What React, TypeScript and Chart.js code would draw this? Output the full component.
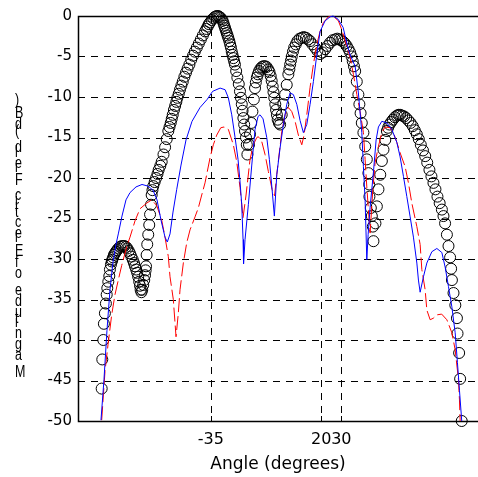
import React, { useEffect, useRef } from "react";
import { Chart, registerables } from "chart.js";

Chart.register(...registerables);

// Measured pattern (circles): angle in degrees / level in dB
const measuredAngle = [
  -89.4, -89.1, -88.6, -88.3, -87.8, -87.3, -86.9, -86.6, -86.1, -85.6, -85.3, -84.8, -84.4, -84.1,
  -83.7, -83.3, -82.8, -82.3, -81.7, -81.1, -80.3, -79.4, -78.7, -78.1, -77.3, -76.6, -75.9, -75.3,
  -74.6, -73.9, -73.3, -72.8, -72.2, -71.7, -71.2, -70.7, -70.3, -70.0, -69.6, -69.2, -68.7, -68.2,
  -67.8, -67.5, -67.3, -67.0, -66.7, -66.2, -65.7, -65.3, -64.8, -64.5, -64.1, -63.7, -63.0, -62.3,
  -61.6, -61.0, -60.2, -59.5, -58.6, -57.8, -57.0, -56.2, -55.6, -55.0, -54.5, -54.0, -53.4, -52.8,
  -52.2, -51.7, -51.0, -50.4, -49.7, -49.0, -48.2, -47.4, -46.6, -45.7, -44.8, -43.9, -43.0, -42.0,
  -41.0, -40.0, -39.0, -37.9, -37.2, -36.6, -36.0, -35.4, -34.6, -33.8, -33.0, -32.1, -31.4, -30.8,
  -30.2, -29.6, -29.1, -28.7, -28.3, -27.9, -27.5, -27.1, -26.7, -26.3, -25.8, -25.4, -25.0, -24.6,
  -24.2, -23.8, -23.4, -23.0, -22.4, -21.8, -21.1, -20.5, -20.0, -19.6, -19.2, -18.8, -18.4, -18.0,
  -17.5, -17.1, -16.8, -16.0, -15.5, -14.9, -14.3, -13.6, -13.0, -12.6, -12.1, -11.6, -11.0, -10.3,
  -9.6, -8.8, -8.0, -7.2, -6.4, -5.8, -5.2, -4.7, -4.2, -3.8, -3.4, -2.9, -2.5, -2.1,
  -1.7, -1.1, -0.5, 0.3, 1.1, 2.0, 2.8, 3.6, 4.1, 4.5, 4.9, 5.3, 5.9, 6.5,
  7.3, 8.1, 9.2, 10.3, 11.3, 12.4, 13.4, 14.4, 15.6, 16.9, 18.1, 19.4, 20.6, 21.9,
  23.1, 24.4, 25.6, 26.9, 28.0, 29.0, 30.0, 31.0, 31.8, 32.7, 33.6, 34.4, 35.1, 35.7,
  36.3, 36.9, 37.7, 38.5, 39.0, 39.6, 40.2, 41.0, 41.9, 42.7, 43.5, 43.9, 44.0, 44.7,
  45.2, 45.7, 46.0, 47.0, 47.7, 48.5, 49.4, 50.2, 51.0, 51.9, 52.7, 53.3, 54.0, 54.8,
  55.7, 56.7, 57.7, 58.5, 59.3, 60.3, 61.3, 62.3, 63.4, 64.5, 65.6, 66.6, 67.6, 68.6,
  69.6, 70.7, 71.8, 72.8, 73.9, 74.9, 75.9, 76.9, 77.9, 79.0, 80.1, 80.9, 81.7, 82.6,
  83.4, 84.2, 84.7, 85.1, 85.9, 86.8, 87.6, 87.9, 88.7, 89.2, 90.0,
];
const measuredDb = [
  -46.0, -42.4, -40.0, -38.0, -36.7, -35.5, -34.4, -33.6, -32.8, -32.1, -31.3, -30.7, -30.3, -30.1,
  -29.8, -29.5, -29.3, -29.1, -28.9, -28.7, -28.5, -28.4, -28.4, -28.4, -28.5, -28.7, -29.0, -29.3,
  -29.7, -30.1, -30.5, -30.9, -31.3, -31.7, -32.2, -32.8, -33.3, -33.8, -34.1, -33.8, -33.2, -32.6,
  -32.0, -31.4, -30.9, -29.5, -28.2, -27.0, -25.8, -24.5, -23.3, -22.1, -21.5, -21.0, -20.5, -20.0,
  -19.5, -19.0, -18.5, -18.0, -17.1, -16.2, -15.2, -14.2, -13.7, -13.2, -12.7, -12.2, -11.6, -11.1,
  -10.6, -10.1, -9.6, -9.1, -8.6, -8.1, -7.5, -7.0, -6.5, -6.0, -5.4, -4.9, -4.4, -3.9,
  -3.4, -2.9, -2.4, -1.9, -1.6, -1.3, -1.0, -0.8, -0.5, -0.3, -0.1, 0.0, 0.0, -0.1,
  -0.2, -0.4, -0.6, -0.9, -1.2, -1.5, -1.8, -2.1, -2.4, -2.7, -3.1, -3.5, -3.9, -4.4,
  -4.8, -5.2, -5.6, -6.0, -6.8, -7.6, -8.4, -9.3, -10.1, -10.9, -11.7, -12.6, -13.4, -14.2,
  -15.0, -15.9, -17.1, -15.9, -14.6, -13.2, -11.8, -10.3, -8.9, -8.2, -7.6, -7.2, -6.8, -6.5,
  -6.3, -6.2, -6.2, -6.3, -6.6, -6.9, -7.4, -8.0, -8.7, -9.4, -10.1, -10.9, -11.6, -12.2,
  -12.8, -13.2, -13.4, -12.2, -10.9, -9.7, -8.5, -7.2, -6.6, -6.0, -5.5, -5.0, -4.4, -3.9,
  -3.5, -3.1, -2.8, -2.7, -2.6, -2.7, -2.9, -3.1, -3.5, -3.9, -4.3, -4.7, -4.5, -4.1,
  -3.7, -3.3, -3.0, -2.9, -2.8, -2.9, -3.0, -3.2, -3.4, -3.7, -4.1, -4.5, -5.0, -5.6,
  -6.2, -6.8, -8.1, -9.7, -10.9, -12.0, -13.2, -14.4, -16.1, -17.7, -19.4, -20.8, -22.3, -23.7,
  -24.7, -26.0, -27.8, -25.6, -23.5, -21.4, -19.6, -17.9, -16.5, -15.3, -14.2, -13.8, -13.4, -13.1,
  -12.8, -12.5, -12.3, -12.2, -12.2, -12.3, -12.4, -12.6, -12.9, -13.2, -13.6, -14.1, -14.6, -15.2,
  -15.9, -16.6, -17.3, -18.1, -19.0, -19.8, -20.6, -21.4, -22.3, -23.1, -23.9, -24.7, -25.6, -27.0,
  -28.4, -29.8, -31.2, -32.6, -34.2, -35.7, -37.3, -39.2, -41.6, -44.8, -50.0,
];

// First computed pattern (blue solid)
const blueAngle = [
  -89.75, -88.26, -86.76, -85.26, -83.77, -82.27, -81.03, -79.28, -77.29, -75.29, -72.3, -69.31, -66.32,
  -63.83, -61.83, -59.84, -57.85, -56.7, -55.35, -53.86, -52.01, -49.87, -47.38, -44.39, -40.4, -36.85,
  -34.13, -30.4, -27.91, -26.29, -24.6, -22.94, -21.46, -20.46, -19.61, -18.96, -18.71, -17.97, -16.32,
  -14.62, -12.98, -11.49, -10.49, -8.99, -7.15, -5.85, -4.51, -3.36, -2.16, -0.52, 1.13, 2.82, 4.47,
  6.11, 7.81, 9.45, 11.1, 12.79, 14.44, 16.08, 17.78, 19.42, 21.92, 24.41, 25.9, 28.39, 30.89, 32.88,
  34.38, 36.87, 38.51, 40.21, 41.01, 41.85, 42.7, 43.35, 44.35, 45.99, 47.34, 48.48, 50.18, 52.67,
  55.16, 57.66, 59.3, 60.95, 62.64, 64.29, 65.93, 67.63, 68.42, 69.27, 70.92, 72.61, 75.1, 77.6, 80.09,
  81.73, 83.38, 85.07, 86.72, 87.86, 88.86, 90.0,
];
const blueDb = [
  -49.9, -44.9, -38.8, -33.8, -30.4, -28.2, -26.8, -24.7, -22.7, -21.8, -21.1, -20.8, -21.0,
  -21.5, -22.7, -25.2, -27.3, -27.9, -26.9, -24.2, -21.4, -18.4, -15.3, -13.0, -11.3, -10.3,
  -9.3, -8.9, -9.1, -10.1, -12.2, -15.0, -17.7, -20.5, -23.3, -27.6, -30.6, -27.6, -23.3,
  -18.4, -14.0, -12.4, -12.2, -12.7, -15.0, -17.7, -21.4, -24.7, -19.6, -16.3, -13.4, -10.9, -9.5,
  -9.7, -10.9, -12.9, -14.4, -13.4, -10.9, -8.1, -4.8, -1.9, -0.6, -0.1, 0.0, -0.4, -1.4, -3.5,
  -4.8, -6.2, -9.5, -14.4, -18.6, -22.7, -30.1, -27.0, -23.6, -19.3, -15.3, -13.7, -13.0, -13.2,
  -14.0, -15.6, -17.4, -19.8, -22.3, -24.8, -27.3, -30.5, -32.6, -34.1, -32.2, -30.5, -29.1, -28.7, -29.2,
  -31.0, -33.4, -35.9, -39.1, -42.8, -46.2, -50.0,
];

// Second computed pattern (red dashed)
const redAngle = [
  -89.4, -87.76, -86.26, -84.42, -82.77, -81.13, -79.43, -76.94, -75.29, -72.8, -70.31, -66.97, -64.48,
  -61.98, -59.49, -57.85, -56.2, -55.35, -53.71, -52.36, -51.22, -50.37, -48.72, -47.03, -45.38, -42.89,
  -41.25, -39.55, -37.91, -35.4, -33.77, -32.07, -30.08, -28.44, -26.29, -23.8, -22.1, -20.46, -18.96,
  -17.47, -15.48, -13.83, -12.13, -11.34, -9.64, -8.0, -6.35, -4.51, -3.26, -2.16, -0.87, 0.33, 1.98,
  3.62, 5.31, 6.96, 8.6, 10.3, 11.44, 12.79, 14.44, 16.08, 17.78, 19.42, 21.07, 23.56, 25.9, 28.54,
  30.24, 32.38, 34.38, 36.02, 37.72, 39.36, 41.01, 41.85, 42.7, 43.49, 44.35, 45.69, 46.84, 48.48,
  50.18, 51.82, 54.32, 55.96, 57.66, 59.3, 61.79, 63.44, 65.13, 67.63, 69.27, 70.12, 71.77, 72.61,
  74.26, 75.9, 77.6, 79.99, 82.58, 85.07, 86.72, 88.36, 88.86, 89.21,
];
const redDb = [
  -49.9, -43.9, -40.6, -36.9, -34.4, -32.6, -30.8, -28.5, -27.3, -25.3, -23.8, -23.1, -22.7,
  -23.4, -25.2, -27.3, -29.7, -32.2, -35.0, -39.6, -36.7, -33.8, -30.5, -28.0, -26.4, -24.8,
  -23.7, -22.1, -20.6, -17.5, -15.9, -14.7, -13.8, -13.7, -14.0, -15.9, -18.0, -21.2, -24.9,
  -22.1, -17.7, -15.9, -15.0, -14.9, -15.5, -17.1, -19.2, -21.4, -22.2, -19.6, -16.8, -14.3, -12.2,
  -11.3, -11.8, -13.0, -14.7, -15.9, -14.7, -12.2, -8.8, -6.0, -3.5, -1.9, -0.8, -0.1, 0.0, -0.6,
  -1.7, -3.5, -5.1, -7.2, -9.7, -11.8, -14.4, -17.7, -21.1, -23.9, -26.8, -21.4, -18.1, -16.1,
  -14.4, -13.7, -13.8, -14.4, -15.6, -16.9, -18.6, -20.6, -23.1, -26.0, -28.2, -31.3, -33.8, -36.3,
  -37.5, -37.3, -36.9, -36.8, -37.5, -39.1, -41.2, -44.9, -47.4, -50.0,
];

const xTickValues = [-35, 20, 30];
const yTickValues = [0, -5, -10, -15, -20, -25, -30, -35, -40, -45, -50];
const xTitle = "Angle (degrees)";
const yTitle = "Magnitude of Electric Field (dB)";

const toPoints = (xs: number[], ys: number[]) => xs.map((x, i) => ({ x, y: ys[i] }));

// Dashed grid, solid box edges and inward tick marks
const gridBox = {
  id: "gridBox",
  beforeDatasetsDraw(chart: any) {
    const { ctx, chartArea, scales } = chart;
    const { left, right, top, bottom } = chartArea;
    const xs = scales.x;
    const ys = scales.y;
    ctx.save();
    ctx.strokeStyle = "#000";
    ctx.lineWidth = 1;
    ctx.setLineDash([7, 6]);
    ctx.beginPath();
    yTickValues.forEach((v) => {
      if (v === 0 || v === -50) return;
      const py = Math.round(ys.getPixelForValue(v)) + 0.5;
      ctx.moveTo(left, py);
      ctx.lineTo(right, py);
    });
    xTickValues.forEach((v) => {
      const px = Math.round(xs.getPixelForValue(v)) + 0.5;
      ctx.moveTo(px, top);
      ctx.lineTo(px, bottom);
    });
    ctx.stroke();
    ctx.setLineDash([]);
    ctx.beginPath();
    yTickValues.forEach((v) => {
      const py = Math.round(ys.getPixelForValue(v)) + 0.5;
      ctx.moveTo(left, py);
      ctx.lineTo(left + 5, py);
    });
    xTickValues.forEach((v) => {
      const px = Math.round(xs.getPixelForValue(v)) + 0.5;
      ctx.moveTo(px, bottom);
      ctx.lineTo(px, bottom - 5);
      ctx.moveTo(px, top);
      ctx.lineTo(px, top + 5);
    });
    ctx.stroke();
    ctx.lineWidth = 1.5;
    ctx.beginPath();
    ctx.moveTo(right, Math.round(top) + 0.5);
    ctx.lineTo(Math.round(left) + 0.5, Math.round(top) + 0.5);
    ctx.lineTo(Math.round(left) + 0.5, Math.round(bottom) + 0.5);
    ctx.lineTo(right, Math.round(bottom) + 0.5);
    ctx.stroke();
    ctx.restore();
  },
};

// Vertical axis title drawn as a column of upright characters
const stackedTitle = {
  id: "stackedTitle",
  afterDraw(chart: any) {
    const { ctx } = chart;
    ctx.save();
    ctx.fillStyle = "#000";
    ctx.textAlign = "left";
    ctx.textBaseline = "alphabetic";
    let y = 377;
    for (const ch of yTitle) {
      ctx.font = '20px "Liberation Sans", Arial, sans-serif';
      const advance = ctx.measureText(ch).width;
      ctx.save();
      ctx.translate(15, y);
      ctx.scale(0.78, 1);
      ctx.font = '16px "Liberation Sans", Arial, sans-serif';
      ctx.fillText(ch, 0, 0);
      ctx.restore();
      y -= advance;
    }
    ctx.restore();
  },
};

export default function App() {
  const canvasRef = useRef<HTMLCanvasElement | null>(null);

  useEffect(() => {
    document.body.style.margin = "0";
    document.body.style.background = "#fff";
    const canvas = canvasRef.current;
    if (!canvas) return;
    const chart = new Chart(canvas, {
      type: "scatter",
      data: {
        datasets: [
          {
            label: "blue",
            data: toPoints(blueAngle, blueDb),
            showLine: true,
            borderColor: "#0000ff",
            borderWidth: 1,
            pointRadius: 0,
            tension: 0,
            clip: false,
          },
          {
            label: "red",
            data: toPoints(redAngle, redDb),
            showLine: true,
            borderColor: "#ff0000",
            borderWidth: 1,
            borderDash: [14, 4],
            pointRadius: 0,
            tension: 0,
            clip: false,
          },
          {
            label: "measured",
            data: toPoints(measuredAngle, measuredDb),
            showLine: false,
            pointStyle: "circle",
            pointRadius: 5.5,
            pointBorderWidth: 1,
            pointBorderColor: "#000",
            pointBackgroundColor: "rgba(0,0,0,0)",
            clip: false,
          },
        ],
      },
      options: {
        responsive: false,
        animation: false,
        events: [],
        layout: { autoPadding: false, padding: { top: 16, left: 0, right: 0, bottom: 0 } },
        plugins: { legend: { display: false }, tooltip: { enabled: false } },
        scales: {
          x: {
            type: "linear",
            min: -101.2,
            max: 98.1,
            grid: { display: false, drawTicks: false },
            border: { display: false },
            afterBuildTicks: (s: any) => {
              s.ticks = xTickValues.map((v) => ({ value: v }));
            },
            afterFit: (s: any) => {
              s.height = 56;
              s.paddingLeft = 0;
              s.paddingRight = 0;
            },
            ticks: {
              autoSkip: false,
              maxRotation: 0,
              color: "#000",
              padding: 9,
              font: { family: '"DejaVu Sans", sans-serif', size: 16 },
              callback: (v: any) => String(v),
            },
            title: {
              display: true,
              text: xTitle,
              color: "#000",
              font: { family: '"DejaVu Sans", sans-serif', size: 17 },
              padding: { top: 0, bottom: 2 },
            },
          },
          y: {
            type: "linear",
            min: -50,
            max: 0,
            grid: { display: false, drawTicks: false },
            border: { display: false },
            afterBuildTicks: (s: any) => {
              s.ticks = yTickValues.map((v) => ({ value: v }));
            },
            afterFit: (s: any) => {
              s.width = 78;
              s.paddingTop = 0;
              s.paddingBottom = 0;
            },
            ticks: {
              color: "#000",
              padding: 6,
              font: { family: '"DejaVu Sans", sans-serif', size: 15 },
              callback: (v: any) => String(v),
            },
          },
        },
      },
      plugins: [gridBox, stackedTitle],
    });
    return () => chart.destroy();
  }, []);

  return (
    <div style={{ width: 478, height: 477, overflow: "hidden", background: "#fff" }}>
      <canvas ref={canvasRef} width={478} height={477} style={{ display: "block" }} />
    </div>
  );
}
